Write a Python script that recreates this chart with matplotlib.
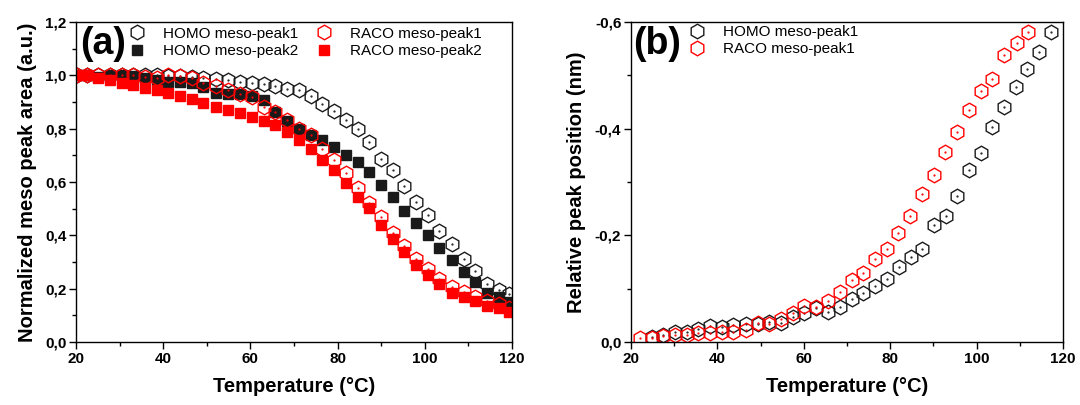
import matplotlib
matplotlib.use("Agg")
import matplotlib.pyplot as plt
from matplotlib.ticker import MultipleLocator, FuncFormatter

plt.rcParams['font.family'] = ['Liberation Sans', 'DejaVu Sans']

# panel (a): normalized meso peak area vs temperature
temp_a = [20.2, 22.5, 25.1, 27.8, 30.5, 33.1, 35.8, 38.5, 41.2, 43.9,
          46.5, 49.2, 52.0, 54.9, 57.6, 60.3, 63.0, 65.6, 68.3, 71.1,
          73.8, 76.5, 79.2, 81.9, 84.6, 87.2, 90.0, 92.6, 95.3, 98.0,
          100.7, 103.3, 106.2, 108.9, 111.6, 114.3, 116.9, 119.4]
homo_p1 = [1.0, 1.0, 1.0, 1.0, 1.0, 1.0, 1.0, 1.0, 0.998, 0.997,
           0.994, 0.99, 0.986, 0.981, 0.976, 0.971, 0.966, 0.959, 0.948, 0.944,
           0.922, 0.894, 0.866, 0.831, 0.798, 0.750, 0.687, 0.644, 0.584, 0.525,
           0.476, 0.416, 0.366, 0.311, 0.266, 0.216, 0.195, 0.179]
homo_p2 = [1.0, 1.0, 0.995, 1.0, 1.0, 0.998, 0.991, 0.981, 0.975, 0.975,
           0.971, 0.956, 0.934, 0.931, 0.931, 0.921, 0.909, 0.861, 0.828, 0.798,
           0.775, 0.757, 0.731, 0.703, 0.675, 0.636, 0.588, 0.544, 0.492, 0.447,
           0.401, 0.351, 0.307, 0.263, 0.226, 0.185, 0.167, 0.151]
raco_p1 = [1.0, 1.0, 1.0, 1.0, 1.0, 1.0, 0.994, 0.991, 1.0, 0.998,
           0.99, 0.97, 0.96, 0.944, 0.931, 0.918, 0.88, 0.863, 0.831, 0.8,
           0.775, 0.722, 0.684, 0.634, 0.578, 0.522, 0.467, 0.409, 0.36, 0.311,
           0.272, 0.235, 0.207, 0.186, 0.17, 0.155, 0.142, 0.129]
raco_p2 = [1.0, 1.0, 0.99, 0.983, 0.971, 0.963, 0.953, 0.944, 0.933, 0.921,
           0.912, 0.896, 0.881, 0.869, 0.857, 0.844, 0.829, 0.814, 0.786, 0.757,
           0.725, 0.682, 0.645, 0.596, 0.542, 0.502, 0.438, 0.385, 0.336, 0.288,
           0.251, 0.217, 0.182, 0.170, 0.153, 0.136, 0.126, 0.113]

# panel (b): relative peak position
temp_b_homo = [24.8, 27.5, 30.2, 32.9, 35.6, 38.3, 41.0, 43.7, 46.6, 49.3,
               52.0, 54.7, 57.4, 60.1, 62.8, 65.7, 68.4, 71.1, 73.8, 76.5,
               79.2, 82.0, 84.7, 87.4, 90.2, 92.8, 95.5, 98.2, 100.9, 103.6,
               106.3, 109.1, 111.7, 114.5, 117.2]
shift_homo = [-0.010, -0.013, -0.019, -0.019, -0.024, -0.030, -0.029, -0.031, -0.034, -0.034,
              -0.037, -0.036, -0.046, -0.054, -0.063, -0.056, -0.065, -0.081, -0.092, -0.105,
              -0.118, -0.140, -0.160, -0.175, -0.219, -0.236, -0.274, -0.323, -0.355, -0.403,
              -0.440, -0.478, -0.512, -0.544, -0.581]
temp_b_raco = [22.1, 24.8, 27.5, 30.2, 32.9, 35.6, 38.3, 41.0, 43.7, 46.6,
               49.3, 52.0, 54.7, 57.4, 60.1, 62.8, 65.7, 68.4, 71.1, 73.8,
               76.5, 79.2, 81.9, 84.6, 87.3, 90.1, 92.7, 95.4, 98.2, 100.9,
               103.6, 106.4, 109.3, 112.0]
shift_raco = [-0.007, -0.008, -0.011, -0.013, -0.013, -0.016, -0.016, -0.019, -0.019, -0.023,
              -0.036, -0.034, -0.044, -0.055, -0.068, -0.065, -0.076, -0.094, -0.116, -0.130,
              -0.156, -0.175, -0.204, -0.236, -0.277, -0.313, -0.357, -0.393, -0.435, -0.471,
              -0.494, -0.538, -0.561, -0.582]

RED = '#ff0000'
BLK = '#1a1a1a'
tick_font = {'family': 'Liberation Sans', 'weight': 'bold', 'size': 11}
label_font = {'family': 'Liberation Sans', 'weight': 'bold', 'size': 14.5}


def comma(v, pos):
    if abs(v) < 1e-9:
        v = 0.0
    return f"{v:.1f}".replace(".", ",")


def hexes(ax, x, y, color, label):
    ax.plot(x, y, linestyle='none', marker='h', ms=10.5, mfc='none', mec=color,
            mew=1.0, label=label)
    ax.plot(x, y, linestyle='none', marker='.', ms=1.2, color=color)


def style(ax):
    ax.set_xlim(20, 120)
    ax.xaxis.set_major_locator(MultipleLocator(20))
    ax.xaxis.set_minor_locator(MultipleLocator(10))
    ax.yaxis.set_major_locator(MultipleLocator(0.2))
    ax.yaxis.set_minor_locator(MultipleLocator(0.1))
    ax.yaxis.set_major_formatter(FuncFormatter(comma))
    ax.tick_params(which='major', direction='out', length=5, width=1, pad=2)
    ax.tick_params(which='minor', direction='out', length=3, width=1)
    for lab in ax.get_xticklabels() + ax.get_yticklabels():
        lab.set_fontproperties(tick_font)
    for s in ax.spines.values():
        s.set_linewidth(1.0)
    ax.set_xlabel('Temperature (°C)', fontdict=label_font, labelpad=8)


fig = plt.figure(figsize=(10.8, 4.05), dpi=100)
ax1 = fig.add_axes([0.0704, 0.1556, 0.4037, 0.790])
ax2 = fig.add_axes([0.5843, 0.1556, 0.4, 0.790])

leg_kw = dict(loc='upper left', frameon=False, fontsize=11, borderpad=0,
              borderaxespad=0, handlelength=2.0, handletextpad=0.7,
              labelspacing=0.2)

# (a)
hexes(ax1, temp_a, homo_p1, BLK, 'HOMO meso-peak1')
ax1.plot(temp_a, homo_p2, linestyle='none', marker='s', ms=7, color=BLK,
         label='HOMO meso-peak2')
hexes(ax1, temp_a, raco_p1, RED, 'RACO meso-peak1')
ax1.plot(temp_a, raco_p2, linestyle='none', marker='s', ms=7, color=RED,
         label='RACO meso-peak2')
ax1.set_ylim(0, 1.2)
style(ax1)
ax1.set_ylabel('Normalized meso peak area (a.u.)', fontdict=label_font, labelpad=6)
ax1.legend(ncol=2, bbox_to_anchor=(0.105, 0.985), columnspacing=0.7, **leg_kw)
ax1.text(0.01, 0.93, '(a)', transform=ax1.transAxes, fontsize=27,
         fontweight='bold', va='center', ha='left')

# (b)
hexes(ax2, temp_b_homo, shift_homo, BLK, 'HOMO meso-peak1')
hexes(ax2, temp_b_raco, shift_raco, RED, 'RACO meso-peak1')
ax2.set_ylim(0, -0.6)
style(ax2)
ax2.set_ylabel('Relative peak position (nm)', fontdict=label_font, labelpad=6)
ax2.legend(bbox_to_anchor=(0.117, 0.99), **leg_kw)
ax2.text(0.005, 0.93, '(b)', transform=ax2.transAxes, fontsize=27,
         fontweight='bold', va='center', ha='left')

fig.savefig('out.png', dpi=100)
